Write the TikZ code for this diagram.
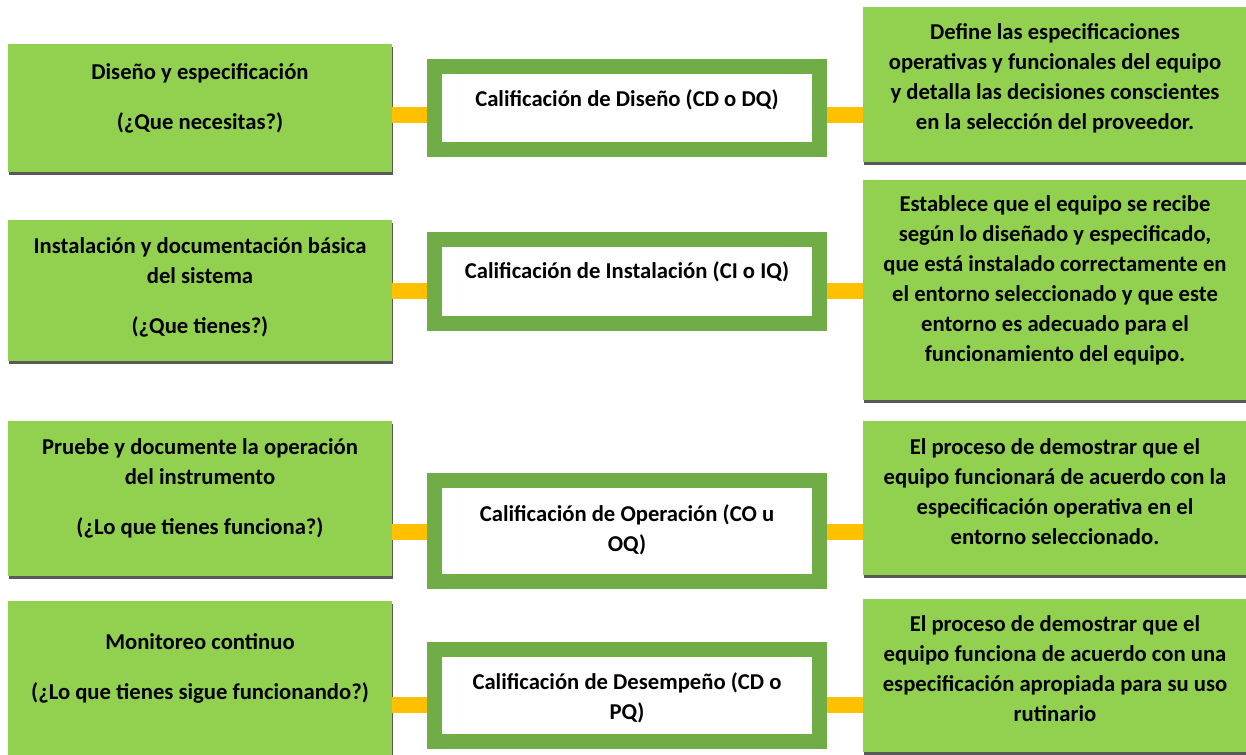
\documentclass[tikz,border=0pt]{standalone}
\usepackage{fontspec}
\setmainfont{Carlito}
\usetikzlibrary{shadows}
\definecolor{leaf}{RGB}{146,208,80}
\definecolor{moss}{RGB}{112,173,71}
\definecolor{amber}{RGB}{255,192,0}
\definecolor{shade}{RGB}{89,89,89}
\tikzset{
    stage/.style={rectangle, fill=leaf, inner sep=0pt, minimum width=288pt,
        drop shadow={shadow xshift=0.75pt, shadow yshift=-2.25pt, fill=shade, opacity=1}},
    qual/.style={rectangle, draw=moss, line width=11.25pt, fill=white, inner sep=0pt, minimum width=288.75pt},
    txt/.style={font=\fontsize{17}{22.5}\selectfont\bfseries, align=center, inner sep=0pt},
    link/.style={amber, line width=12pt}
}

\begin{document}
\begin{tikzpicture}[x=0.75pt, y=-0.75pt]
    \useasboundingbox (0,0) rectangle (1246,754);

    % Left column: what is needed
    \node[stage, minimum height=96pt] (L1) at (200,108) {};
    \node[stage, minimum height=105.75pt] (L2) at (200,290.5) {};
    \node[stage, minimum height=116.25pt] (L3) at (200,498.5) {};
    \node[stage, minimum height=119.25pt] (L4) at (200,680.5) {};
    \node[txt] (L1t) at (200,98) {Diseño y especificación\\[15pt](¿Que necesitas?)};
    \node[txt] (L2t) at (200,287.5) {Instalación y documentación básica\\del sistema\\[15pt](¿Que tienes?)};
    \node[txt] (L3t) at (200,488) {Pruebe y documente la operación\\del instrumento\\[15pt](¿Lo que tienes funciona?)};
    \node[txt] (L4t) at (200,668) {Monitoreo continuo\\[15pt](¿Lo que tienes sigue funcionando?)};

    % Middle column: qualification stages
    \node[qual, minimum height=62.25pt] (Q1) at (627,108) {};
    \node[qual, minimum height=63pt] (Q2) at (627,281.5) {};
    \node[qual, minimum height=75.75pt] (Q3) at (627,531) {};
    \node[qual, minimum height=69pt] (Q4) at (627,695.5) {};
    \node[txt] (Q1t) at (627,100) {Calificación de Diseño (CD o DQ)};
    \node[txt] (Q2t) at (627,272) {Calificación de Instalación (CI o IQ)};
    \node[txt] (Q3t) at (627,530) {Calificación de Operación (CO u\\OQ)};
    \node[txt] (Q4t) at (627,698) {Calificación de Desempeño (CD o\\PQ)};

    % Right column: descriptions
    \node[stage, minimum height=116.25pt] (R1) at (1055,84.5) {};
    \node[stage, minimum height=165pt] (R2) at (1055,290) {};
    \node[stage, minimum height=115.5pt] (R3) at (1055,498) {};
    \node[stage, minimum height=114.75pt] (R4) at (1055,675.5) {};
    \node[txt] (R1t) at (1055,78) {Define las especificaciones\\operativas y funcionales del equipo\\y detalla las decisiones conscientes\\en la selección del proveedor.};
    \node[txt] (R2t) at (1055,280.5) {Establece que el equipo se recibe\\según lo diseñado y especificado,\\que está instalado correctamente en\\el entorno seleccionado y que este\\entorno es adecuado para el\\funcionamiento del equipo.};
    \node[txt] (R3t) at (1055,492) {El proceso de demostrar que el\\equipo funcionará de acuerdo con la\\especificación operativa en el\\entorno seleccionado.};
    \node[txt] (R4t) at (1055,669) {El proceso de demostrar que el\\equipo funciona de acuerdo con una\\especificación apropiada para su uso\\rutinario};

    % Connectors
    \coordinate (c1) at (0,115);
    \coordinate (c2) at (0,290.5);
    \coordinate (c3) at (0,532);
    \coordinate (c4) at (0,705);
    \foreach \i in {1,...,4} {
        \draw[link] (L\i.east |- c\i) -- (Q\i.west |- c\i);
        \draw[link] (Q\i.east |- c\i) -- (R\i.west |- c\i);
    }
\end{tikzpicture}
\end{document}
